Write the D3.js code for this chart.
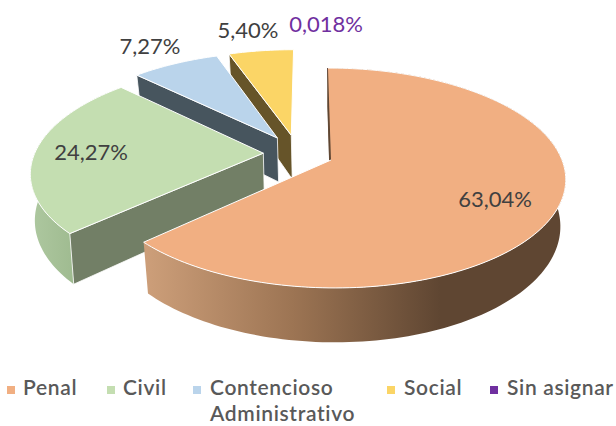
<!DOCTYPE html>
<html><head><meta charset="utf-8">
<script src="https://cdn.jsdelivr.net/npm/d3@7"></script>
<style>html,body{margin:0;padding:0;background:#fff}svg{display:block}text{font-family:Lato,sans-serif}</style>
</head><body><div id="c"></div>
<script>
const categories = ["Penal","Civil","Contencioso Administrativo","Social","Sin asignar"];
const values = [63.04,24.27,7.27,5.40,0.018];
const valueLabels = ["63,04%","24,27%","7,27%","5,40%","0,018%"];

const topColors = ["#F1AF82","#C4DEB1","#BAD4EB","#FBD566","#7030A0"];
const sideColors = ["#5F4632","#727F66","#47555E","#665429","#5F4632"];
const explodeU = [0,-0.295,-0.237,-0.175,0];
const explodeV = [0,-0.0645,-0.213,-0.24,0];
const bottomScale = [0.977,0.985,0.977,0.977,0.977];
const labelX = [495,91,150,248,326];
const labelY = [199,152,46,30,24];
const labelColors = ["#404040","#404040","#404040","#404040","#7030A0"];
const legendMarkX = [7,107,193,387,490];
const legendTextX = [23,123,210,404,507];

const W=616,H=426,cx=331,cy=160,R=231,Ry=107,k=0.1636,shear=3.5,D=45.5;
const svg=d3.select("#c").append("svg").attr("width",W).attr("height",H);
const defs=svg.append("defs");
function grad(id,x1,x2,stops){
  const g=defs.append("linearGradient").attr("id",id).attr("gradientUnits","userSpaceOnUse")
    .attr("x1",x1).attr("x2",x2).attr("y1",0).attr("y2",0);
  stops.forEach(([o,c])=>g.append("stop").attr("offset",o).attr("stop-color",c));
}
grad("g0",148,440,[[0,"#CC9E79"],[0.5,"#9C7453"],[1,"#5F4632"]]);
grad("g1",30,80,[[0,"#AEC8A0"],[1,"#9DB98E"]]);
const outerFill=["url(#g0)","url(#g1)"];

const pie=d3.pie().sort(null)(values);
function proj(u,v,bottom,i){
  const w=1-k*v;
  let x=cx+(R*u+shear*v)/w, y=cy+Ry*v/w;
  if(bottom){x=cx+(x-cx)*bottomScale[i];y+=D/w;}
  return [x,y];
}
const rim=(i,a)=>[explodeU[i]+Math.sin(a),explodeV[i]-Math.cos(a)];
const line=d3.line();
function arcPts(i,bottom,rev){
  const p=pie[i],n=Math.max(2,Math.ceil((p.endAngle-p.startAngle)*40));
  const pts=d3.range(n+1).map(j=>{
    const [u,v]=rim(i,p.startAngle+(p.endAngle-p.startAngle)*j/n);
    return proj(u,v,bottom,i);
  });
  return rev?pts.reverse():pts;
}
function wall(i,a){
  const [u,v]=rim(i,a),au=explodeU[i],av=explodeV[i];
  return line([proj(u,v,false,i),proj(au,av,false,i),proj(au,av,true,i),proj(u,v,true,i)])+"Z";
}
const apex=i=>proj(explodeU[i],explodeV[i],false,i);
const order=[4,3,2,1,0];
const sl=svg.append("g").selectAll("g.slice").data(order).join("g").attr("class","slice");
// only Penal and Civil show a rim wall from this viewpoint
sl.filter(i=>i<2).append("path").attr("d",i=>line(arcPts(i,false,false).concat(arcPts(i,true,true)))+"Z")
  .attr("fill",i=>outerFill[i]);
sl.append("path").attr("d",i=>wall(i,pie[i].startAngle)).attr("fill",i=>sideColors[i])
  .attr("stroke",i=>(i===0||i===4)?sideColors[i]:"#fff").attr("stroke-width",0.8);
sl.append("path").attr("d",i=>line(arcPts(i,false,false).concat([apex(i)]))+"Z")
  .attr("fill",i=>topColors[i])
  .attr("stroke",i=>(i===0||i===4)?"none":"#fff").attr("stroke-width",1);
// Penal: white edge only along the rim and the left cut, not the back cut
sl.filter(i=>i===0).append("path")
  .attr("d",i=>line(arcPts(i,false,false).concat([apex(i)])))
  .attr("fill","none").attr("stroke","#fff").attr("stroke-width",1);

svg.selectAll("text.lab").data(valueLabels).join("text").attr("class","lab")
  .attr("x",(d,i)=>labelX[i]).attr("y",(d,i)=>labelY[i]).attr("dy","0.35em")
  .attr("text-anchor","middle").attr("font-size",22).attr("fill",(d,i)=>labelColors[i]).text(d=>d);

const leg=svg.selectAll("g.leg").data(categories).join("g").attr("class","leg");
leg.append("rect").attr("x",(d,i)=>legendMarkX[i]).attr("y",386).attr("width",8).attr("height",8)
  .attr("fill",(d,i)=>topColors[i]);
leg.each(function(d,i){
  const lines=d.length>15?d.split(" "):[d];
  d3.select(this).selectAll("text").data(lines).join("text")
    .attr("x",legendTextX[i]).attr("y",(t,j)=>395+j*26)
    .attr("font-size",21).attr("letter-spacing",0.65).attr("font-weight",600).attr("fill","#595959").text(t=>t);
});
</script></body></html>
